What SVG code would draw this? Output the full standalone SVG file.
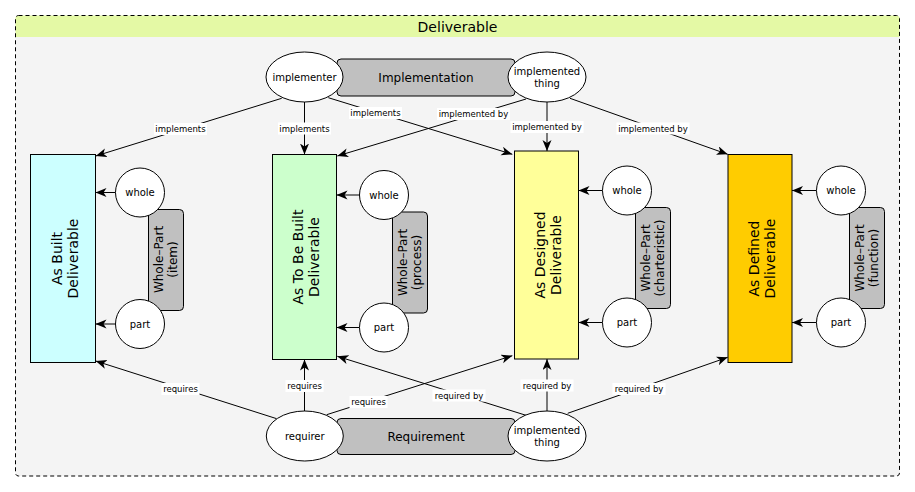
<svg xmlns="http://www.w3.org/2000/svg" width="915" height="492" viewBox="0 0 915 492">
<defs>
<marker id="arr" markerUnits="userSpaceOnUse" markerWidth="12" markerHeight="10" refX="11" refY="4.5" orient="auto">
<path d="M0,0 L11,4.5 L0,9 L3,4.5 z" fill="#000"/>
</marker>
<style>
text{font-family:"DejaVu Sans","Liberation Sans",sans-serif;fill:#000;text-anchor:middle}
.c{stroke:#000;stroke-width:1;fill:none;marker-end:url(#arr)}
.lb{fill:#fff}
.lt{font-size:8.5px}
.el{fill:#fff;stroke:#000;stroke-width:1}
.nt{font-size:10px}
.rel{fill:#c0c0c0;stroke:#000;stroke-width:1}
.rt{font-size:12px}
.wp{font-size:12px}
.box{stroke:#000;stroke-width:1}
.bt{font-size:14px}
</style>
</defs>
<g id="container">
<rect x="15.5" y="15.5" width="884" height="460.5" rx="3" fill="#f4f4f4"/>
<path d="M18.5,15.5 H896.5 A3,3 0 0 1 899.5,18.5 V37 H15.5 V18.5 A3,3 0 0 1 18.5,15.5 z" fill="#e4f9a5"/>
<rect x="15.5" y="15.5" width="884" height="460.5" rx="3" fill="none" stroke="#000" stroke-dasharray="4 3"/>
<text x="457.5" y="32" style="font-size:14px">Deliverable</text>
</g>
<g id="connectors">
<line class="c" x1="281.7" y1="98.3" x2="95.7" y2="156"/>
<line class="c" x1="304.5" y1="102" x2="304.5" y2="154.5"/>
<line class="c" x1="328.3" y1="97.7" x2="512.3" y2="154.3"/>
<line class="c" x1="526" y1="99" x2="337.3" y2="156"/>
<line class="c" x1="547" y1="102" x2="547" y2="151"/>
<line class="c" x1="570" y1="98.3" x2="727.7" y2="154.3"/>
<line class="c" x1="276.7" y1="418.7" x2="95.7" y2="361"/>
<line class="c" x1="304.5" y1="411" x2="304.5" y2="359.5"/>
<line class="c" x1="326.7" y1="414.7" x2="512.3" y2="355.7"/>
<line class="c" x1="526" y1="415.3" x2="337.3" y2="356.3"/>
<line class="c" x1="547" y1="411" x2="547" y2="359"/>
<line class="c" x1="567.7" y1="413.3" x2="727.7" y2="357.3"/>
<line class="c" x1="115.5" y1="192.5" x2="95.5" y2="192.5"/>
<line class="c" x1="115.5" y1="324" x2="95.5" y2="324"/>
<line class="c" x1="359.5" y1="195" x2="336.5" y2="195"/>
<line class="c" x1="359.5" y1="327.5" x2="336.5" y2="327.5"/>
<line class="c" x1="602.5" y1="190.5" x2="578.5" y2="190.5"/>
<line class="c" x1="602.5" y1="322.5" x2="578.5" y2="322.5"/>
<line class="c" x1="816.5" y1="190.5" x2="792" y2="190.5"/>
<line class="c" x1="816.5" y1="322.5" x2="792" y2="322.5"/>
<rect class="lb" x="154" y="123" width="53" height="12"/><text class="lt" x="180.5" y="132">implements</text>
<rect class="lb" x="278" y="122.5" width="53" height="12"/><text class="lt" x="304.5" y="131.5">implements</text>
<rect class="lb" x="349" y="107" width="53" height="12"/><text class="lt" x="375.5" y="116">implements</text>
<rect class="lb" x="437" y="108" width="73" height="12"/><text class="lt" x="473.5" y="117">implemented by</text>
<rect class="lb" x="510.5" y="121" width="73" height="12"/><text class="lt" x="547" y="130">implemented by</text>
<rect class="lb" x="616.5" y="122.5" width="73" height="12"/><text class="lt" x="653" y="131.5">implemented by</text>
<rect class="lb" x="161.5" y="383" width="38" height="12"/><text class="lt" x="180.5" y="392">requires</text>
<rect class="lb" x="285.5" y="380" width="38" height="12"/><text class="lt" x="304.5" y="389">requires</text>
<rect class="lb" x="349.5" y="396" width="38" height="12"/><text class="lt" x="368.5" y="405">requires</text>
<rect class="lb" x="432.5" y="389.5" width="53" height="12"/><text class="lt" x="459" y="398.5">required by</text>
<rect class="lb" x="520.5" y="379.5" width="53" height="12"/><text class="lt" x="547" y="388.5">required by</text>
<rect class="lb" x="612.5" y="383" width="53" height="12"/><text class="lt" x="639" y="392">required by</text>
</g>
<g id="implementation">
<rect class="rel" x="337" y="59" width="178" height="37" rx="4"/>
<text class="rt" x="426" y="82">Implementation</text>
</g>
<g id="requirement">
<rect class="rel" x="337" y="418.5" width="178" height="36" rx="4"/>
<text class="rt" x="426" y="441">Requirement</text>
</g>
<g id="implementer">
<ellipse class="el" cx="304.5" cy="77" rx="38.5" ry="25"/>
<text class="nt" x="304.5" y="80.5">implementer</text>
</g>
<g id="implemented-thing-top">
<ellipse class="el" cx="547" cy="77" rx="39" ry="25"/>
<text class="nt" x="547" y="75">implemented</text>
<text class="nt" x="547" y="87">thing</text>
</g>
<g id="requirer">
<ellipse class="el" cx="304.8" cy="436" rx="38.5" ry="25"/>
<text class="nt" x="304.8" y="439.5">requirer</text>
</g>
<g id="implemented-thing-bottom">
<ellipse class="el" cx="547" cy="436" rx="39" ry="25"/>
<text class="nt" x="547" y="434">implemented</text>
<text class="nt" x="547" y="446">thing</text>
</g>
<g id="as-built">
<rect class="box" x="30.5" y="154.5" width="65" height="208" fill="#ccffff"/>
<text class="bt" transform="rotate(-90 63 258.5)" x="63" y="258.5"><tspan x="63" dy="-1.5">As Built</tspan><tspan x="63" dy="16">Deliverable</tspan></text>
</g>
<g id="wp-item">
<rect class="rel" x="148.5" y="209.5" width="35" height="101" rx="4"/>
<text class="wp" transform="rotate(-90 166 259.5)" x="166" y="259.5"><tspan x="166" dy="-3">Whole–Part</tspan><tspan x="166" dy="14">(item)</tspan></text>
</g>
<g id="whole-1"><circle class="el" cx="140" cy="192.5" r="24.5"/><text class="nt" x="140" y="196">whole</text></g>
<g id="part-1"><circle class="el" cx="140" cy="324" r="24.5"/><text class="nt" x="140" y="327.5">part</text></g>
<g id="as-to-be-built">
<rect class="box" x="272.5" y="154.5" width="64" height="205" fill="#ccffcc"/>
<text class="bt" transform="rotate(-90 304.5 257)" x="304.5" y="257"><tspan x="304.5" dy="-1.5">As To Be Built</tspan><tspan x="304.5" dy="16">Deliverable</tspan></text>
</g>
<g id="wp-process">
<rect class="rel" x="392.5" y="212" width="35" height="101" rx="4"/>
<text class="wp" transform="rotate(-90 410 262.5)" x="410" y="262.5"><tspan x="410" dy="-3">Whole–Part</tspan><tspan x="410" dy="14">(process)</tspan></text>
</g>
<g id="whole-2"><circle class="el" cx="384" cy="195" r="24.5"/><text class="nt" x="384" y="198.5">whole</text></g>
<g id="part-2"><circle class="el" cx="384" cy="327.5" r="24.5"/><text class="nt" x="384" y="331">part</text></g>
<g id="as-designed">
<rect class="box" x="514.5" y="151" width="64" height="208" fill="#ffff99"/>
<text class="bt" transform="rotate(-90 546.5 255)" x="546.5" y="255"><tspan x="546.5" dy="-1.5">As Designed</tspan><tspan x="546.5" dy="16">Deliverable</tspan></text>
</g>
<g id="wp-charteristic">
<rect class="rel" x="635.5" y="207.5" width="35" height="101" rx="4"/>
<text class="wp" transform="rotate(-90 653 258)" x="653" y="258"><tspan x="653" dy="-3">Whole–Part</tspan><tspan x="653" dy="14">(charteristic)</tspan></text>
</g>
<g id="whole-3"><circle class="el" cx="627" cy="190.5" r="24.5"/><text class="nt" x="627" y="194">whole</text></g>
<g id="part-3"><circle class="el" cx="627" cy="322.5" r="24.5"/><text class="nt" x="627" y="326">part</text></g>
<g id="as-defined">
<rect class="box" x="728" y="154.5" width="64" height="208" fill="#ffcc00"/>
<text class="bt" transform="rotate(-90 760 258.5)" x="760" y="258.5"><tspan x="760" dy="-1.5">As Defined</tspan><tspan x="760" dy="16">Deliverable</tspan></text>
</g>
<g id="wp-function">
<rect class="rel" x="849.5" y="207.5" width="35" height="101" rx="4"/>
<text class="wp" transform="rotate(-90 867 258)" x="867" y="258"><tspan x="867" dy="-3">Whole–Part</tspan><tspan x="867" dy="14">(function)</tspan></text>
</g>
<g id="whole-4"><circle class="el" cx="841" cy="190.5" r="24.5"/><text class="nt" x="841" y="194">whole</text></g>
<g id="part-4"><circle class="el" cx="841" cy="322.5" r="24.5"/><text class="nt" x="841" y="326">part</text></g>
</svg>
